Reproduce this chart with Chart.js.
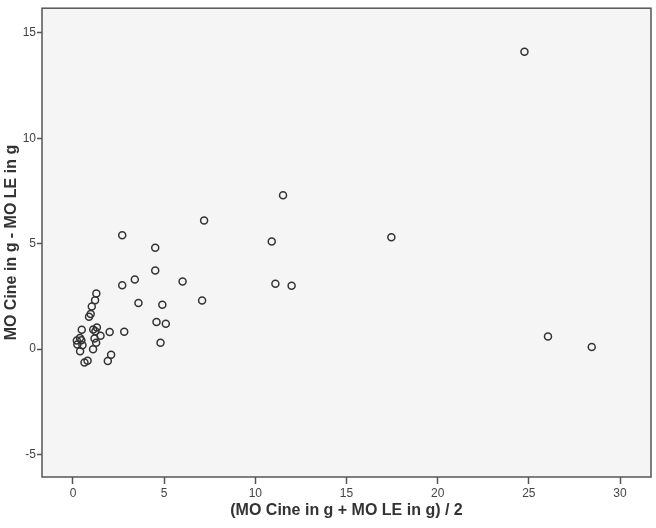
<!DOCTYPE html>
<html>
<head>
<meta charset="utf-8">
<script src="https://cdn.jsdelivr.net/npm/chart.js@4"></script>
<style>
  html, body { margin: 0; padding: 0; background: #ffffff; }
  #wrap { width: 656px; height: 528px; }
</style>
</head>
<body>
<div id="wrap"><canvas id="chart" width="656" height="528"></canvas></div>
<script>
// ----------------------------------------
// Data
// ----------------------------------------

// mean of the two methods (g)
var meanValues = [
    1.28, 1.21, 1.03, 0.97, 0.88, 0.48, 1.11, 1.31, 1.23, 2.01,
    2.81, 1.51, 1.18, 1.27, 0.38, 0.21, 0.46, 0.24, 0.52, 0.39,
    1.10, 2.09, 1.91, 0.63, 0.80,
    4.51, 3.39, 2.70, 6.01, 7.08, 3.59, 4.90, 4.58, 5.09, 4.80,
    7.19, 2.70, 4.51, 10.90, 11.10, 11.99, 11.52, 17.46, 26.05, 28.45,
    24.76
];

// difference of the two methods (g)
var diffValues = [
    2.64, 2.32, 2.02, 1.66, 1.53, 0.92, 0.93, 1.02, 0.84, 0.81,
    0.82, 0.63, 0.50, 0.30, 0.52, 0.40, 0.42, 0.22, 0.18, -0.10,
    -0.01, -0.27, -0.57, -0.64, -0.56,
    3.73, 3.30, 3.03, 3.20, 2.30, 2.18, 2.10, 1.28, 1.20, 0.30,
    6.10, 5.40, 4.80, 5.10, 3.10, 3.00, 7.30, 5.30, 0.60, 0.10,
    14.10
];

var xTicks = [0, 5, 10, 15, 20, 25, 30];
var yTicks = [-5, 0, 5, 10, 15];

var xTitle = '(MO Cine in g + MO LE in g) / 2';
var yTitle = 'MO Cine in g - MO LE in g';

// ----------------------------------------
// Chart
// ----------------------------------------

var points = meanValues.map(function (v, i) {
    return { x: v, y: diffValues[i] };
});

// light plot background and full frame like SPSS output
var framePlugin = {
    id: 'frame',
    beforeDraw: function (chart) {
        var a = chart.chartArea;
        var ctx = chart.ctx;
        ctx.save();
        ctx.fillStyle = '#f5f5f5';
        ctx.fillRect(a.left, a.top, a.right - a.left, a.bottom - a.top);
        ctx.restore();
    },
    beforeDatasetsDraw: function (chart) {
        var a = chart.chartArea;
        var ctx = chart.ctx;
        ctx.save();
        ctx.strokeStyle = '#555555';
        ctx.lineWidth = 1.5;
        ctx.strokeRect(a.left, a.top, a.right - a.left, a.bottom - a.top);
        ctx.restore();
    }
};

var tickFont = { family: "'Liberation Sans', Arial, sans-serif", size: 12 };
var titleFont = { family: "'Liberation Sans', Arial, sans-serif", size: 16, weight: 'bold' };

var ctx = document.getElementById('chart').getContext('2d');
var chart = new Chart(ctx, {
    type: 'scatter',
    data: {
        datasets: [{
            data: points,
            pointRadius: 3.5,
            pointHoverRadius: 3.5,
            pointBorderWidth: 1.5,
            borderColor: '#333333',
            backgroundColor: 'rgba(0,0,0,0)'
        }]
    },
    options: {
        responsive: false,
        animation: false,
        layout: { padding: { top: 3, right: 4, left: 0, bottom: 0 } },
        plugins: {
            legend: { display: false },
            tooltip: { enabled: false }
        },
        scales: {
            x: {
                type: 'linear',
                min: -1.7,
                max: 31.7,
                afterBuildTicks: function (scale) {
                    scale.ticks = xTicks.map(function (v) { return { value: v }; });
                },
                afterFit: function (scale) { scale.height = 51; },
                border: { display: false },
                grid: { drawOnChartArea: false, drawTicks: true, tickLength: 7, tickColor: '#555555', tickWidth: 1.5 },
                ticks: { color: '#444444', font: tickFont, padding: 2, maxRotation: 0 },
                title: { display: true, text: xTitle, color: '#333333', font: titleFont, padding: { top: 0, bottom: 8 } }
            },
            y: {
                type: 'linear',
                min: -6.07,
                max: 16.17,
                afterBuildTicks: function (scale) {
                    scale.ticks = yTicks.map(function (v) { return { value: v }; });
                },
                afterFit: function (scale) { scale.width = 42; },
                border: { display: false },
                grid: { drawOnChartArea: false, drawTicks: true, tickLength: 5, tickColor: '#555555', tickWidth: 1.5 },
                ticks: { color: '#444444', font: tickFont, padding: 1 },
                title: { display: true, text: yTitle, color: '#333333', font: titleFont, padding: { top: 2, bottom: 0 } }
            }
        }
    },
    plugins: [framePlugin]
});
</script>
</body>
</html>
